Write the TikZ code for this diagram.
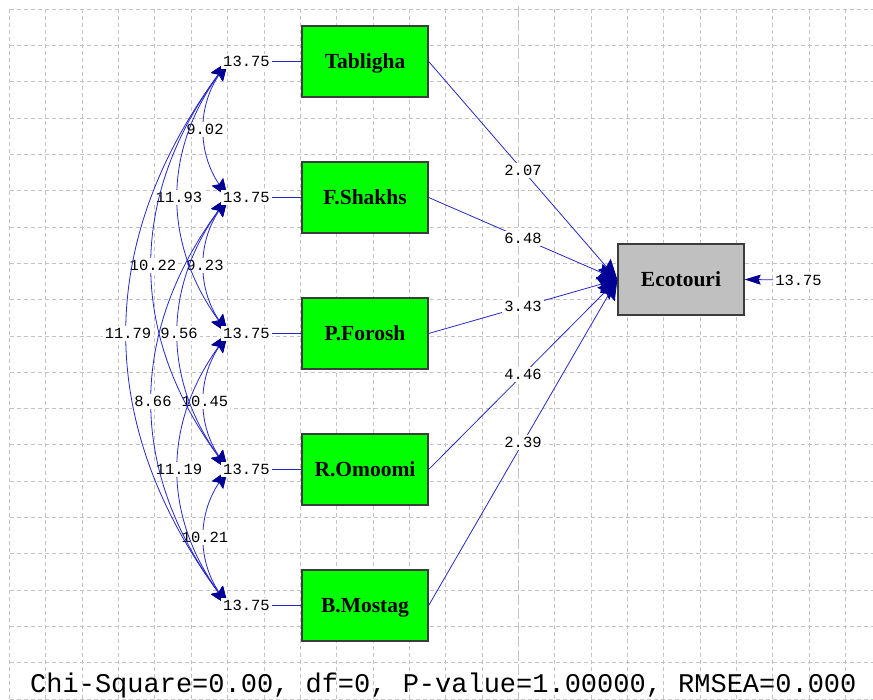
\documentclass[tikz,border=0pt]{standalone}
\usepackage{fontspec}
\setmainfont{Liberation Serif}
\newfontfamily\monof{Liberation Mono}
\usetikzlibrary{arrows.meta}
\definecolor{gridc}{RGB}{195,195,195}
\definecolor{linec}{RGB}{40,40,200}
\definecolor{headc}{RGB}{0,0,150}
\definecolor{boxg}{RGB}{0,255,0}
\definecolor{boxgray}{RGB}{192,192,192}
\definecolor{bord}{RGB}{60,60,60}
\tikzset{
  gridline/.style={gridc, line width=0.9pt, dash pattern=on 4pt off 3pt},
  midline/.style={gridc, line width=1.2pt, dash pattern=on 11pt off 3pt},
  gbox/.style={draw=bord, line width=1.3pt, fill=boxg, minimum width=126pt, minimum height=71pt, inner sep=0pt, text height=14pt, text depth=0pt, font=\fontsize{21.5}{24}\selectfont\bfseries},
  ybox/.style={gbox, fill=boxgray},
  numlab/.style={fill=white, text=black, inner sep=2pt, font=\monof\fontsize{15.5}{16}\selectfont},
  plink/.style={linec, line width=0.8pt},
  patharrow/.style={linec, line width=0.8pt, -{Stealth[length=20pt,width=17pt,inset=3pt,color=headc]}},
  cov/.style={linec, line width=0.8pt, {Stealth[length=19pt,width=14pt,inset=3pt,color=headc]}-{Stealth[length=19pt,width=14pt,inset=3pt,color=headc]}},
  errarrow/.style={linec, line width=0.8pt, -{Stealth[length=16pt,width=10pt,inset=2pt,color=headc]}}
}
\begin{document}
\begin{tikzpicture}[x=1pt,y=-1pt]
\useasboundingbox (0,0) rectangle (873,700);
\fill[white] (0,0) rectangle (873,700);
% grid
\foreach \i in {0,...,19} {
  \draw[gridline] (9.5, 9.3+36.3*\i) -- (873, 9.3+36.3*\i);
}
\foreach \i in {0,...,13,15,16,...,23} {
  \draw[gridline] (9.5+36.35*\i, 9.3) -- (9.5+36.35*\i, 700);
}
\draw[midline] (518.4, 6) -- (518.4, 700);

% observed variables
\node[gbox] (t1) at (365,61.5) {Tabligha};
\node[gbox] (t2) at (365,197.5) {F.Shakhs};
\node[gbox] (t3) at (365,333.5) {P.Forosh};
\node[gbox] (t4) at (365,469.5) {R.Omoomi};
\node[gbox] (t5) at (365,605.5) {B.Mostag};
\node[ybox] (eco) at (681,279.5) {Ecotouri};

% covariance end points
\coordinate (c1) at (228,61.5);
\coordinate (c2) at (228,197.5);
\coordinate (c3) at (228,333.5);
\coordinate (c4) at (228,469.5);
\coordinate (c5) at (228,605.5);

% covariances
\draw[cov] (c1) .. controls +(-30.7,45.3) and +(-30.7,-45.3) .. (c2) node[numlab,pos=0.5] {9.02};
\draw[cov] (c2) .. controls +(-30.7,45.3) and +(-30.7,-45.3) .. (c3) node[numlab,pos=0.5] {9.23};
\draw[cov] (c3) .. controls +(-30.7,45.3) and +(-30.7,-45.3) .. (c4) node[numlab,pos=0.5] {10.45};
\draw[cov] (c4) .. controls +(-30.7,45.3) and +(-30.7,-45.3) .. (c5) node[numlab,pos=0.5] {10.21};
\draw[cov] (c1) .. controls +(-65.3,90.7) and +(-65.3,-90.7) .. (c3) node[numlab,pos=0.5] {11.93};
\draw[cov] (c2) .. controls +(-65.3,90.7) and +(-65.3,-90.7) .. (c4) node[numlab,pos=0.5] {9.56};
\draw[cov] (c3) .. controls +(-65.3,90.7) and +(-65.3,-90.7) .. (c5) node[numlab,pos=0.5] {11.19};
\draw[cov] (c1) .. controls +(-100,136) and +(-100,-136) .. (c4) node[numlab,pos=0.5] {10.22};
\draw[cov] (c2) .. controls +(-100,136) and +(-100,-136) .. (c5) node[numlab,pos=0.5] {8.66};
\draw[cov] (c1) .. controls +(-133.3,181.3) and +(-133.3,-181.3) .. (c5) node[numlab,pos=0.5] {11.79};

% error variances of observed X
\node[numlab] (v1) at (246.5,61.5) {13.75};
\node[numlab] (v2) at (246.5,197.5) {13.75};
\node[numlab] (v3) at (246.5,333.5) {13.75};
\node[numlab] (v4) at (246.5,469.5) {13.75};
\node[numlab] (v5) at (246.5,605.5) {13.75};
\draw[plink] (v1) -- (t1);
\draw[plink] (v2) -- (t2);
\draw[plink] (v3) -- (t3);
\draw[plink] (v4) -- (t4);
\draw[plink] (v5) -- (t5);

% paths
\draw[patharrow] (t1.east) -- (eco.west) node[numlab,pos=0.5] {2.07};
\draw[patharrow] (t2.east) -- (eco.west) node[numlab,pos=0.5] {6.48};
\draw[patharrow] (t3.east) -- (eco.west) node[numlab,pos=0.5] {3.43};
\draw[patharrow] (t4.east) -- (eco.west) node[numlab,pos=0.5] {4.46};
\draw[patharrow] (t5.east) -- (eco.west) node[numlab,pos=0.5] {2.39};

% error of Ecotouri
\node[numlab] (ve) at (798.5,280) {13.75};
\draw[errarrow] (ve) -- (eco.east);

% fit statistics
\node[anchor=base west, inner sep=0pt, font=\monof\fontsize{27}{27}\selectfont] (fit) at (30,692) {Chi-Square=0.00, df=0, P-value=1.00000, RMSEA=0.000};
\end{tikzpicture}
\end{document}
